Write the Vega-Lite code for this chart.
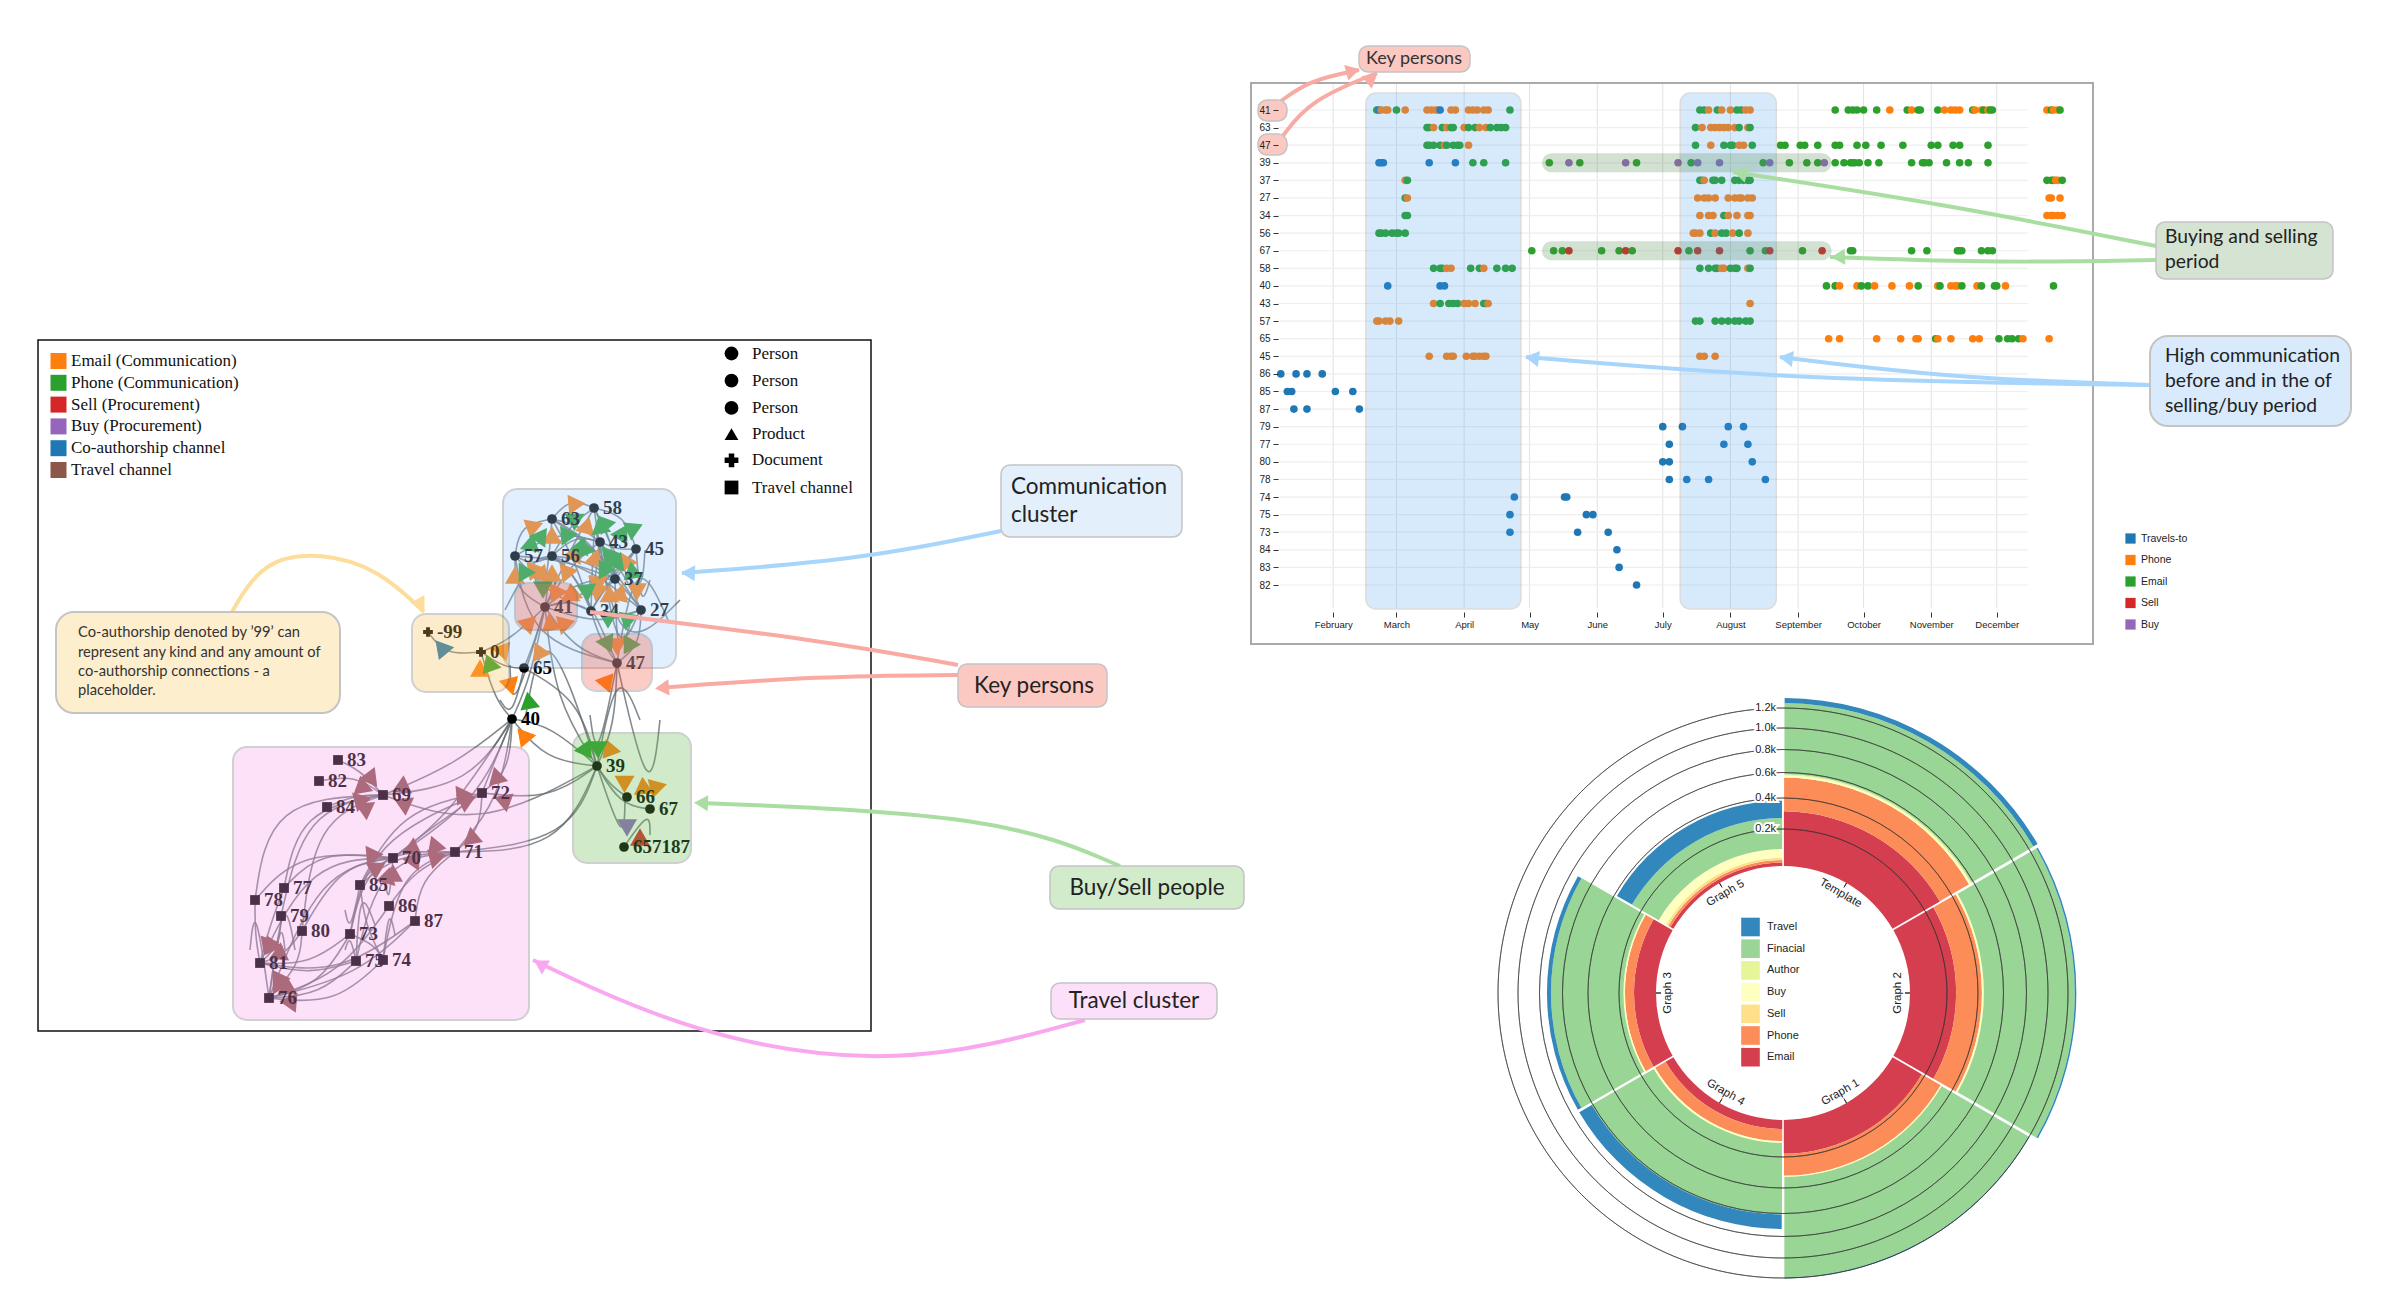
{"$schema":"https://vega.github.io/schema/vega-lite/v6.json","width":2400,"height":1316,"padding":0,"autosize":"none","background":"white","config":{"view":{"stroke":null},"legend":{"orient":"none","title":null,"padding":0,"symbolType":"square","labelLimit":400}},
"resolve":{"scale":{"x":"independent","y":"independent","color":"independent","fill":"independent","shape":"independent","theta":"independent","radius":"independent"},"legend":{"color":"independent","fill":"independent","shape":"independent"}},
"layer":[
{"data":{"values":[{"f":"network","x":38,"x2":871,"y":340,"y2":1031}]},"mark":{"type":"rect","fillOpacity":0,"stroke":"#111","strokeWidth":1.5},"encoding":{"x":{"field":"x","type":"quantitative","scale":{"domain":[0,2400],"range":[0,2400]},"axis":null},"x2":{"field":"x2"},"y":{"field":"y","type":"quantitative","scale":{"domain":[0,1316],"range":[0,1316]},"axis":null},"y2":{"field":"y2"}}},
{"data":{"values":[{"f":"timeline","x":1251,"x2":2093,"y":83,"y2":644}]},"mark":{"type":"rect","fillOpacity":0,"stroke":"#aaaaaa","strokeWidth":2},"encoding":{"x":{"field":"x","type":"quantitative","scale":{"domain":[0,2400],"range":[0,2400]},"axis":null},"x2":{"field":"x2"},"y":{"field":"y","type":"quantitative","scale":{"domain":[0,1316],"range":[0,1316]},"axis":null},"y2":{"field":"y2"}}},
{"encoding":{"x":{"field":"d","type":"temporal","title":null,"scale":{"type":"utc","domain":["2024-01-01","2025-01-01"],"range":[1265.5,2064.4]},"axis":{"orient":"bottom","offset":-704,"values":["2024-02-01","2024-03-01","2024-04-01","2024-05-01","2024-06-01","2024-07-01","2024-08-01","2024-09-01","2024-10-01","2024-11-01","2024-12-01"],"format":"%B","grid":false,"domain":false,"tickSize":5,"tickColor":"#333","labelColor":"#222","labelFont":"Liberation Sans","labelFontSize":9.5,"labelPadding":2,"labelOverlap":false,"zindex":1}}},
"layer":[
{"data":{"values":[{"d":"2024-02-01"},{"d":"2024-03-01"},{"d":"2024-04-01"},{"d":"2024-05-01"},{"d":"2024-06-01"},{"d":"2024-07-01"},{"d":"2024-08-01"},{"d":"2024-09-01"},{"d":"2024-10-01"},{"d":"2024-11-01"},{"d":"2024-12-01"}]},"mark":{"type":"rule","y":84,"y2":608,"stroke":"#e2e2e2","strokeWidth":1}},
{"data":{"values":[{"p":"41"},{"p":"63"},{"p":"47"},{"p":"39"},{"p":"37"},{"p":"27"},{"p":"34"},{"p":"56"},{"p":"67"},{"p":"58"},{"p":"40"},{"p":"43"},{"p":"57"},{"p":"65"},{"p":"45"},{"p":"86"},{"p":"85"},{"p":"87"},{"p":"79"},{"p":"77"},{"p":"80"},{"p":"78"},{"p":"74"},{"p":"75"},{"p":"73"},{"p":"84"},{"p":"83"},{"p":"82"}]},"mark":{"type":"rule","x":1278,"x2":2028,"stroke":"#eeeeee","strokeWidth":1.2},"encoding":{"x":{"value":1278},"x2":{"value":2028},"y":{"field":"p","type":"nominal","title":null,"scale":{"type":"point","domain":["41","63","47","39","37","27","34","56","67","58","40","43","57","65","45","86","85","87","79","77","80","78","74","75","73","84","83","82"],"range":[110,585],"padding":0},"axis":{"orient":"left","offset":-1278,"grid":false,"domain":false,"tickSize":5,"tickColor":"#333","labelColor":"#222","labelFont":"Liberation Sans","labelFontSize":10,"labelPadding":3,"zindex":1}}}},
{"data":{"values":[
{"p":"41","t":"Email","d":"2024-02-21"},{"p":"41","t":"Travels-to","d":"2024-02-22"},{"p":"41","t":"Phone","d":"2024-02-23"},{"p":"41","t":"Phone","d":"2024-02-25"},{"p":"41","t":"Phone","d":"2024-02-26"},{"p":"41","t":"Email","d":"2024-03-01"},{"p":"41","t":"Phone","d":"2024-03-05"},{"p":"41","t":"Phone","d":"2024-03-15"},{"p":"41","t":"Phone","d":"2024-03-17"},{"p":"41","t":"Phone","d":"2024-03-19"},{"p":"41","t":"Phone","d":"2024-03-20"},{"p":"41","t":"Travels-to","d":"2024-03-21"},{"p":"41","t":"Phone","d":"2024-03-26"},{"p":"41","t":"Phone","d":"2024-03-28"},{"p":"41","t":"Phone","d":"2024-04-03"},{"p":"41","t":"Phone","d":"2024-04-05"},{"p":"41","t":"Phone","d":"2024-04-07"},{"p":"41","t":"Phone","d":"2024-04-10"},{"p":"41","t":"Phone","d":"2024-04-12"},{"p":"41","t":"Email","d":"2024-04-22"},{"p":"41","t":"Email","d":"2024-07-18"},{"p":"41","t":"Email","d":"2024-07-20"},{"p":"41","t":"Phone","d":"2024-07-22"},{"p":"41","t":"Email","d":"2024-07-26"},{"p":"41","t":"Phone","d":"2024-07-28"},{"p":"41","t":"Phone","d":"2024-08-01"},{"p":"41","t":"Email","d":"2024-08-04"},{"p":"41","t":"Email","d":"2024-08-06"},{"p":"41","t":"Phone","d":"2024-08-08"},{"p":"41","t":"Phone","d":"2024-08-10"},{"p":"41","t":"Email","d":"2024-09-18"},{"p":"41","t":"Email","d":"2024-09-24"},{"p":"41","t":"Email","d":"2024-09-26"},{"p":"41","t":"Email","d":"2024-09-28"},{"p":"41","t":"Email","d":"2024-10-01"},{"p":"41","t":"Email","d":"2024-10-07"},{"p":"41","t":"Phone","d":"2024-10-13"},{"p":"41","t":"Email","d":"2024-10-21"},{"p":"41","t":"Phone","d":"2024-10-23"},{"p":"41","t":"Email","d":"2024-10-26"},{"p":"41","t":"Email","d":"2024-10-27"},{"p":"41","t":"Email","d":"2024-11-04"},{"p":"41","t":"Phone","d":"2024-11-07"},{"p":"41","t":"Phone","d":"2024-11-10"},{"p":"41","t":"Phone","d":"2024-11-12"},{"p":"41","t":"Phone","d":"2024-11-14"},{"p":"41","t":"Email","d":"2024-11-20"},{"p":"41","t":"Phone","d":"2024-11-21"},{"p":"41","t":"Phone","d":"2024-11-24"},{"p":"41","t":"Email","d":"2024-11-25"},{"p":"41","t":"Phone","d":"2024-11-27"},{"p":"41","t":"Email","d":"2024-11-28"},{"p":"41","t":"Email","d":"2024-11-29"},{"p":"41","t":"Phone","d":"2024-12-24"},{"p":"41","t":"Email","d":"2024-12-26"},{"p":"41","t":"Phone","d":"2024-12-27"},{"p":"41","t":"Phone","d":"2024-12-29"},{"p":"41","t":"Email","d":"2024-12-30"},
{"p":"63","t":"Email","d":"2024-03-15"},{"p":"63","t":"Email","d":"2024-03-16"},{"p":"63","t":"Phone","d":"2024-03-18"},{"p":"63","t":"Email","d":"2024-03-22"},{"p":"63","t":"Phone","d":"2024-03-24"},{"p":"63","t":"Email","d":"2024-03-26"},{"p":"63","t":"Email","d":"2024-03-27"},{"p":"63","t":"Phone","d":"2024-04-01"},{"p":"63","t":"Email","d":"2024-04-03"},{"p":"63","t":"Email","d":"2024-04-06"},{"p":"63","t":"Phone","d":"2024-04-08"},{"p":"63","t":"Phone","d":"2024-04-11"},{"p":"63","t":"Email","d":"2024-04-13"},{"p":"63","t":"Email","d":"2024-04-16"},{"p":"63","t":"Email","d":"2024-04-18"},{"p":"63","t":"Email","d":"2024-04-20"},{"p":"63","t":"Email","d":"2024-07-16"},{"p":"63","t":"Phone","d":"2024-07-19"},{"p":"63","t":"Phone","d":"2024-07-23"},{"p":"63","t":"Phone","d":"2024-07-25"},{"p":"63","t":"Phone","d":"2024-07-27"},{"p":"63","t":"Phone","d":"2024-07-29"},{"p":"63","t":"Phone","d":"2024-07-31"},{"p":"63","t":"Phone","d":"2024-08-03"},{"p":"63","t":"Email","d":"2024-08-05"},{"p":"63","t":"Phone","d":"2024-08-09"},{"p":"63","t":"Email","d":"2024-08-10"},
{"p":"47","t":"Email","d":"2024-03-15"},{"p":"47","t":"Email","d":"2024-03-16"},{"p":"47","t":"Email","d":"2024-03-18"},{"p":"47","t":"Email","d":"2024-03-21"},{"p":"47","t":"Phone","d":"2024-03-23"},{"p":"47","t":"Email","d":"2024-03-24"},{"p":"47","t":"Email","d":"2024-03-27"},{"p":"47","t":"Email","d":"2024-03-29"},{"p":"47","t":"Email","d":"2024-03-30"},{"p":"47","t":"Phone","d":"2024-04-03"},{"p":"47","t":"Email","d":"2024-07-16"},{"p":"47","t":"Phone","d":"2024-07-23"},{"p":"47","t":"Email","d":"2024-07-29"},{"p":"47","t":"Email","d":"2024-08-01"},{"p":"47","t":"Email","d":"2024-08-02"},{"p":"47","t":"Phone","d":"2024-08-05"},{"p":"47","t":"Phone","d":"2024-08-07"},{"p":"47","t":"Email","d":"2024-08-11"},{"p":"47","t":"Email","d":"2024-08-24"},{"p":"47","t":"Email","d":"2024-08-26"},{"p":"47","t":"Email","d":"2024-09-02"},{"p":"47","t":"Email","d":"2024-09-04"},{"p":"47","t":"Email","d":"2024-09-10"},{"p":"47","t":"Email","d":"2024-09-18"},{"p":"47","t":"Email","d":"2024-09-20"},{"p":"47","t":"Email","d":"2024-09-28"},{"p":"47","t":"Email","d":"2024-10-02"},{"p":"47","t":"Email","d":"2024-10-09"},{"p":"47","t":"Email","d":"2024-10-19"},{"p":"47","t":"Email","d":"2024-11-01"},{"p":"47","t":"Email","d":"2024-11-04"},{"p":"47","t":"Email","d":"2024-11-11"},{"p":"47","t":"Email","d":"2024-11-14"},{"p":"47","t":"Email","d":"2024-11-27"},
{"p":"39","t":"Travels-to","d":"2024-02-22"},{"p":"39","t":"Travels-to","d":"2024-02-23"},{"p":"39","t":"Travels-to","d":"2024-02-24"},{"p":"39","t":"Travels-to","d":"2024-03-16"},{"p":"39","t":"Travels-to","d":"2024-03-28"},{"p":"39","t":"Email","d":"2024-04-05"},{"p":"39","t":"Email","d":"2024-04-10"},{"p":"39","t":"Email","d":"2024-04-20"},{"p":"39","t":"Email","d":"2024-05-10"},{"p":"39","t":"Buy","d":"2024-05-19"},{"p":"39","t":"Email","d":"2024-05-24"},{"p":"39","t":"Buy","d":"2024-06-14"},{"p":"39","t":"Email","d":"2024-06-19"},{"p":"39","t":"Buy","d":"2024-07-08"},{"p":"39","t":"Email","d":"2024-07-14"},{"p":"39","t":"Buy","d":"2024-07-17"},{"p":"39","t":"Buy","d":"2024-07-27"},{"p":"39","t":"Email","d":"2024-08-16"},{"p":"39","t":"Buy","d":"2024-08-19"},{"p":"39","t":"Email","d":"2024-08-28"},{"p":"39","t":"Email","d":"2024-09-05"},{"p":"39","t":"Email","d":"2024-09-10"},{"p":"39","t":"Buy","d":"2024-09-13"},{"p":"39","t":"Email","d":"2024-09-18"},{"p":"39","t":"Email","d":"2024-09-22"},{"p":"39","t":"Email","d":"2024-09-25"},{"p":"39","t":"Email","d":"2024-09-26"},{"p":"39","t":"Email","d":"2024-09-27"},{"p":"39","t":"Email","d":"2024-09-29"},{"p":"39","t":"Email","d":"2024-10-03"},{"p":"39","t":"Email","d":"2024-10-08"},{"p":"39","t":"Email","d":"2024-10-23"},{"p":"39","t":"Email","d":"2024-10-28"},{"p":"39","t":"Email","d":"2024-10-29"},{"p":"39","t":"Email","d":"2024-10-31"},{"p":"39","t":"Email","d":"2024-11-08"},{"p":"39","t":"Email","d":"2024-11-14"},{"p":"39","t":"Email","d":"2024-11-18"},{"p":"39","t":"Email","d":"2024-11-27"},
{"p":"37","t":"Phone","d":"2024-03-05"},{"p":"37","t":"Email","d":"2024-03-06"},{"p":"37","t":"Email","d":"2024-07-18"},{"p":"37","t":"Email","d":"2024-07-19"},{"p":"37","t":"Phone","d":"2024-07-20"},{"p":"37","t":"Email","d":"2024-07-24"},{"p":"37","t":"Email","d":"2024-07-25"},{"p":"37","t":"Email","d":"2024-07-28"},{"p":"37","t":"Email","d":"2024-08-03"},{"p":"37","t":"Email","d":"2024-08-05"},{"p":"37","t":"Email","d":"2024-08-07"},{"p":"37","t":"Email","d":"2024-08-09"},{"p":"37","t":"Email","d":"2024-08-10"},{"p":"37","t":"Email","d":"2024-12-24"},{"p":"37","t":"Email","d":"2024-12-26"},{"p":"37","t":"Email","d":"2024-12-27"},{"p":"37","t":"Phone","d":"2024-12-28"},{"p":"37","t":"Phone","d":"2024-12-29"},{"p":"37","t":"Email","d":"2024-12-31"},
{"p":"27","t":"Email","d":"2024-03-05"},{"p":"27","t":"Phone","d":"2024-03-06"},{"p":"27","t":"Phone","d":"2024-07-17"},{"p":"27","t":"Phone","d":"2024-07-20"},{"p":"27","t":"Phone","d":"2024-07-22"},{"p":"27","t":"Phone","d":"2024-07-25"},{"p":"27","t":"Phone","d":"2024-07-31"},{"p":"27","t":"Phone","d":"2024-08-03"},{"p":"27","t":"Phone","d":"2024-08-05"},{"p":"27","t":"Phone","d":"2024-08-06"},{"p":"27","t":"Phone","d":"2024-08-09"},{"p":"27","t":"Phone","d":"2024-08-11"},{"p":"27","t":"Phone","d":"2024-12-25"},{"p":"27","t":"Phone","d":"2024-12-26"},{"p":"27","t":"Phone","d":"2024-12-30"},
{"p":"34","t":"Email","d":"2024-03-05"},{"p":"34","t":"Email","d":"2024-03-06"},{"p":"34","t":"Phone","d":"2024-07-18"},{"p":"34","t":"Phone","d":"2024-07-22"},{"p":"34","t":"Phone","d":"2024-07-24"},{"p":"34","t":"Email","d":"2024-07-29"},{"p":"34","t":"Phone","d":"2024-07-31"},{"p":"34","t":"Phone","d":"2024-08-04"},{"p":"34","t":"Phone","d":"2024-08-09"},{"p":"34","t":"Phone","d":"2024-08-10"},{"p":"34","t":"Phone","d":"2024-12-24"},{"p":"34","t":"Phone","d":"2024-12-26"},{"p":"34","t":"Phone","d":"2024-12-27"},{"p":"34","t":"Phone","d":"2024-12-29"},{"p":"34","t":"Phone","d":"2024-12-31"},
{"p":"56","t":"Email","d":"2024-02-22"},{"p":"56","t":"Email","d":"2024-02-23"},{"p":"56","t":"Email","d":"2024-02-25"},{"p":"56","t":"Email","d":"2024-02-28"},{"p":"56","t":"Email","d":"2024-03-01"},{"p":"56","t":"Email","d":"2024-03-02"},{"p":"56","t":"Email","d":"2024-03-05"},{"p":"56","t":"Phone","d":"2024-07-15"},{"p":"56","t":"Phone","d":"2024-07-16"},{"p":"56","t":"Phone","d":"2024-07-18"},{"p":"56","t":"Email","d":"2024-07-23"},{"p":"56","t":"Phone","d":"2024-07-25"},{"p":"56","t":"Email","d":"2024-07-28"},{"p":"56","t":"Email","d":"2024-07-30"},{"p":"56","t":"Phone","d":"2024-08-02"},{"p":"56","t":"Email","d":"2024-08-05"},{"p":"56","t":"Phone","d":"2024-08-09"},
{"p":"67","t":"Email","d":"2024-05-02"},{"p":"67","t":"Email","d":"2024-05-12"},{"p":"67","t":"Email","d":"2024-05-16"},{"p":"67","t":"Sell","d":"2024-05-19"},{"p":"67","t":"Email","d":"2024-06-03"},{"p":"67","t":"Email","d":"2024-06-11"},{"p":"67","t":"Sell","d":"2024-06-14"},{"p":"67","t":"Email","d":"2024-06-17"},{"p":"67","t":"Sell","d":"2024-07-08"},{"p":"67","t":"Email","d":"2024-07-13"},{"p":"67","t":"Sell","d":"2024-07-17"},{"p":"67","t":"Sell","d":"2024-07-27"},{"p":"67","t":"Email","d":"2024-08-10"},{"p":"67","t":"Email","d":"2024-08-17"},{"p":"67","t":"Sell","d":"2024-08-19"},{"p":"67","t":"Email","d":"2024-09-03"},{"p":"67","t":"Sell","d":"2024-09-12"},{"p":"67","t":"Email","d":"2024-09-25"},{"p":"67","t":"Email","d":"2024-09-26"},{"p":"67","t":"Email","d":"2024-10-23"},{"p":"67","t":"Email","d":"2024-10-30"},{"p":"67","t":"Email","d":"2024-11-13"},{"p":"67","t":"Email","d":"2024-11-14"},{"p":"67","t":"Email","d":"2024-11-15"},{"p":"67","t":"Email","d":"2024-11-24"},{"p":"67","t":"Email","d":"2024-11-27"},{"p":"67","t":"Email","d":"2024-11-29"},
{"p":"58","t":"Email","d":"2024-03-18"},{"p":"58","t":"Email","d":"2024-03-21"},{"p":"58","t":"Email","d":"2024-03-22"},{"p":"58","t":"Phone","d":"2024-03-24"},{"p":"58","t":"Phone","d":"2024-03-26"},{"p":"58","t":"Email","d":"2024-04-04"},{"p":"58","t":"Email","d":"2024-04-08"},{"p":"58","t":"Phone","d":"2024-04-10"},{"p":"58","t":"Email","d":"2024-04-16"},{"p":"58","t":"Email","d":"2024-04-20"},{"p":"58","t":"Email","d":"2024-04-23"},{"p":"58","t":"Email","d":"2024-07-18"},{"p":"58","t":"Email","d":"2024-07-22"},{"p":"58","t":"Email","d":"2024-07-25"},{"p":"58","t":"Email","d":"2024-07-26"},{"p":"58","t":"Phone","d":"2024-07-28"},{"p":"58","t":"Phone","d":"2024-07-29"},{"p":"58","t":"Email","d":"2024-08-01"},{"p":"58","t":"Email","d":"2024-08-03"},{"p":"58","t":"Email","d":"2024-08-04"},{"p":"58","t":"Phone","d":"2024-08-09"},{"p":"58","t":"Email","d":"2024-08-10"},
{"p":"40","t":"Travels-to","d":"2024-02-26"},{"p":"40","t":"Travels-to","d":"2024-03-21"},{"p":"40","t":"Travels-to","d":"2024-03-23"},{"p":"40","t":"Email","d":"2024-09-14"},{"p":"40","t":"Email","d":"2024-09-18"},{"p":"40","t":"Phone","d":"2024-09-20"},{"p":"40","t":"Phone","d":"2024-09-28"},{"p":"40","t":"Email","d":"2024-09-30"},{"p":"40","t":"Email","d":"2024-10-03"},{"p":"40","t":"Phone","d":"2024-10-06"},{"p":"40","t":"Phone","d":"2024-10-14"},{"p":"40","t":"Phone","d":"2024-10-22"},{"p":"40","t":"Email","d":"2024-10-26"},{"p":"40","t":"Phone","d":"2024-11-04"},{"p":"40","t":"Email","d":"2024-11-05"},{"p":"40","t":"Phone","d":"2024-11-10"},{"p":"40","t":"Phone","d":"2024-11-12"},{"p":"40","t":"Phone","d":"2024-11-13"},{"p":"40","t":"Email","d":"2024-11-15"},{"p":"40","t":"Phone","d":"2024-11-22"},{"p":"40","t":"Email","d":"2024-11-24"},{"p":"40","t":"Email","d":"2024-11-30"},{"p":"40","t":"Email","d":"2024-12-01"},{"p":"40","t":"Phone","d":"2024-12-05"},{"p":"40","t":"Email","d":"2024-12-27"},
{"p":"43","t":"Phone","d":"2024-03-18"},{"p":"43","t":"Email","d":"2024-03-21"},{"p":"43","t":"Email","d":"2024-03-25"},{"p":"43","t":"Email","d":"2024-03-27"},{"p":"43","t":"Email","d":"2024-03-29"},{"p":"43","t":"Phone","d":"2024-04-01"},{"p":"43","t":"Phone","d":"2024-04-03"},{"p":"43","t":"Phone","d":"2024-04-06"},{"p":"43","t":"Email","d":"2024-04-10"},{"p":"43","t":"Email","d":"2024-04-11"},{"p":"43","t":"Phone","d":"2024-04-12"},{"p":"43","t":"Phone","d":"2024-08-10"},
{"p":"57","t":"Phone","d":"2024-02-21"},{"p":"57","t":"Phone","d":"2024-02-22"},{"p":"57","t":"Phone","d":"2024-02-25"},{"p":"57","t":"Phone","d":"2024-02-27"},{"p":"57","t":"Phone","d":"2024-03-02"},{"p":"57","t":"Email","d":"2024-07-16"},{"p":"57","t":"Email","d":"2024-07-18"},{"p":"57","t":"Email","d":"2024-07-25"},{"p":"57","t":"Email","d":"2024-07-28"},{"p":"57","t":"Email","d":"2024-07-31"},{"p":"57","t":"Email","d":"2024-08-03"},{"p":"57","t":"Email","d":"2024-08-05"},{"p":"57","t":"Email","d":"2024-08-08"},{"p":"57","t":"Email","d":"2024-08-10"},
{"p":"65","t":"Phone","d":"2024-09-15"},{"p":"65","t":"Phone","d":"2024-09-20"},{"p":"65","t":"Phone","d":"2024-10-07"},{"p":"65","t":"Phone","d":"2024-10-18"},{"p":"65","t":"Phone","d":"2024-10-25"},{"p":"65","t":"Phone","d":"2024-10-26"},{"p":"65","t":"Email","d":"2024-11-03"},{"p":"65","t":"Phone","d":"2024-11-04"},{"p":"65","t":"Phone","d":"2024-11-10"},{"p":"65","t":"Phone","d":"2024-11-20"},{"p":"65","t":"Phone","d":"2024-11-23"},{"p":"65","t":"Email","d":"2024-12-02"},{"p":"65","t":"Email","d":"2024-12-06"},{"p":"65","t":"Email","d":"2024-12-08"},{"p":"65","t":"Email","d":"2024-12-11"},{"p":"65","t":"Phone","d":"2024-12-13"},{"p":"65","t":"Phone","d":"2024-12-25"},
{"p":"45","t":"Phone","d":"2024-03-16"},{"p":"45","t":"Phone","d":"2024-03-24"},{"p":"45","t":"Phone","d":"2024-03-26"},{"p":"45","t":"Phone","d":"2024-03-27"},{"p":"45","t":"Phone","d":"2024-04-02"},{"p":"45","t":"Phone","d":"2024-04-05"},{"p":"45","t":"Phone","d":"2024-04-06"},{"p":"45","t":"Phone","d":"2024-04-08"},{"p":"45","t":"Phone","d":"2024-04-10"},{"p":"45","t":"Phone","d":"2024-04-11"},{"p":"45","t":"Phone","d":"2024-07-18"},{"p":"45","t":"Phone","d":"2024-07-20"},{"p":"45","t":"Phone","d":"2024-07-25"},
{"p":"86","t":"Travels-to","d":"2024-01-08"},{"p":"86","t":"Travels-to","d":"2024-01-15"},{"p":"86","t":"Travels-to","d":"2024-01-20"},{"p":"86","t":"Travels-to","d":"2024-01-27"},
{"p":"85","t":"Travels-to","d":"2024-01-11"},{"p":"85","t":"Travels-to","d":"2024-01-13"},{"p":"85","t":"Travels-to","d":"2024-02-02"},{"p":"85","t":"Travels-to","d":"2024-02-10"},
{"p":"87","t":"Travels-to","d":"2024-01-14"},{"p":"87","t":"Travels-to","d":"2024-01-20"},{"p":"87","t":"Travels-to","d":"2024-02-13"},
{"p":"79","t":"Travels-to","d":"2024-07-01"},{"p":"79","t":"Travels-to","d":"2024-07-10"},{"p":"79","t":"Travels-to","d":"2024-07-31"},{"p":"79","t":"Travels-to","d":"2024-08-07"},
{"p":"77","t":"Travels-to","d":"2024-07-04"},{"p":"77","t":"Travels-to","d":"2024-07-29"},{"p":"77","t":"Travels-to","d":"2024-08-09"},
{"p":"80","t":"Travels-to","d":"2024-07-01"},{"p":"80","t":"Travels-to","d":"2024-07-04"},{"p":"80","t":"Travels-to","d":"2024-08-11"},
{"p":"78","t":"Travels-to","d":"2024-07-04"},{"p":"78","t":"Travels-to","d":"2024-07-12"},{"p":"78","t":"Travels-to","d":"2024-07-22"},{"p":"78","t":"Travels-to","d":"2024-08-17"},
{"p":"74","t":"Travels-to","d":"2024-04-24"},{"p":"74","t":"Travels-to","d":"2024-05-17"},{"p":"74","t":"Travels-to","d":"2024-05-18"},
{"p":"75","t":"Travels-to","d":"2024-04-22"},{"p":"75","t":"Travels-to","d":"2024-05-27"},{"p":"75","t":"Travels-to","d":"2024-05-30"},
{"p":"73","t":"Travels-to","d":"2024-04-22"},{"p":"73","t":"Travels-to","d":"2024-05-23"},{"p":"73","t":"Travels-to","d":"2024-06-06"},
{"p":"84","t":"Travels-to","d":"2024-06-10"},{"p":"83","t":"Travels-to","d":"2024-06-11"},{"p":"82","t":"Travels-to","d":"2024-06-19"}
]},"mark":{"type":"point","filled":true,"size":58,"opacity":1},"encoding":{"y":{"field":"p","type":"nominal"},"color":{"field":"t","type":"nominal","scale":{"domain":["Travels-to","Phone","Email","Sell","Buy"],"range":["#1f77b4","#ff7f0e","#2ca02c","#d62728","#9467bd"]},"legend":{"legendX":2125,"legendY":533,"symbolSize":105,"symbolOpacity":1,"symbolStrokeWidth":0,"rowPadding":10.5,"labelFont":"Liberation Sans","labelFontSize":10.5,"labelOffset":5,"labelColor":"#222"}}}},
{"data":{"values":[{"period":"first","d":"2024-02-16","e":"2024-04-27"},{"period":"second","d":"2024-07-09","e":"2024-08-22"}]},"mark":{"type":"rect","y":93,"y2":609,"cornerRadius":10,"fill":"#3b9cf5","opacity":0.2,"stroke":"#555","strokeWidth":1.5},"encoding":{"x2":{"field":"e"}}},
{"data":{"values":[{"p":"39","d":"2024-05-11","e":"2024-09-12"},{"p":"67","d":"2024-05-11","e":"2024-09-12"}]},"mark":{"type":"rule","strokeWidth":19,"strokeCap":"round","stroke":"#4b874b","opacity":0.25},"encoding":{"x2":{"field":"e"},"y":{"field":"p","type":"nominal"}}}
]},
{"data":{"values":[{"g":"Template","t":"Email","o":1,"v":314},{"g":"Template","t":"Phone","o":2,"v":247},{"g":"Template","t":"Buy","o":4,"v":15},{"g":"Template","t":"Author","o":5,"v":10},{"g":"Template","t":"Finacial","o":6,"v":667},{"g":"Template","t":"Travel","o":7,"v":52},{"g":"Graph 2","t":"Email","o":1,"v":259},{"g":"Graph 2","t":"Phone","o":2,"v":172},{"g":"Graph 2","t":"Buy","o":4,"v":15},{"g":"Graph 2","t":"Finacial","o":6,"v":826},{"g":"Graph 2","t":"Travel","o":7,"v":16},{"g":"Graph 1","t":"Email","o":1,"v":183},{"g":"Graph 1","t":"Phone","o":2,"v":138},{"g":"Graph 1","t":"Buy","o":4,"v":8},{"g":"Graph 1","t":"Finacial","o":6,"v":867},{"g":"Graph 1","t":"Travel","o":7,"v":8},{"g":"Graph 4","t":"Email","o":1,"v":49},{"g":"Graph 4","t":"Phone","o":2,"v":65},{"g":"Graph 4","t":"Buy","o":4,"v":10},{"g":"Graph 4","t":"Finacial","o":6,"v":485},{"g":"Graph 4","t":"Travel","o":7,"v":126},{"g":"Graph 3","t":"Email","o":1,"v":119},{"g":"Graph 3","t":"Phone","o":2,"v":49},{"g":"Graph 3","t":"Buy","o":4,"v":8},{"g":"Graph 3","t":"Finacial","o":6,"v":524},{"g":"Graph 3","t":"Travel","o":7,"v":35},{"g":"Graph 5","t":"Email","o":1,"v":19},{"g":"Graph 5","t":"Phone","o":2,"v":13},{"g":"Graph 5","t":"Sell","o":3,"v":13},{"g":"Graph 5","t":"Buy","o":4,"v":47},{"g":"Graph 5","t":"Finacial","o":6,"v":179},{"g":"Graph 5","t":"Travel","o":7,"v":112}]},
"layer":[
{"transform":[{"stack":"v","groupby":["g"],"sort":[{"field":"o"}],"as":["r0","r1"]}],"mark":{"type":"arc","x":1783,"y":993,"padAngle":0.008},"encoding":{"theta":{"field":"g","type":"nominal","scale":{"type":"band","domain":["Template","Graph 2","Graph 1","Graph 4","Graph 3","Graph 5"],"range":[0,6.28318]}},"radius":{"field":"r1","type":"quantitative","scale":{"type":"linear","domain":[0,200,400,600,800,1000,1200,1400],"range":[127,164,195,220.5,243.5,265,285,304]}},"radius2":{"field":"r0"},"color":{"field":"t","type":"nominal","scale":{"domain":["Travel","Finacial","Author","Buy","Sell","Phone","Email"],"range":["#3288bd","#99d594","#e6f598","#ffffbf","#fee08b","#fc8d59","#d53e4f"]},"legend":{"legendX":1741,"legendY":917.5,"symbolSize":346,"symbolOpacity":1,"symbolStrokeWidth":0,"rowPadding":2.7,"labelFont":"Liberation Sans","labelFontSize":11,"labelOffset":7,"labelColor":"#222"}}}},
{"data":{"values":[{"k":200,"label":"0.2k"},{"k":400,"label":"0.4k"},{"k":600,"label":"0.6k"},{"k":800,"label":"0.8k"},{"k":1000,"label":"1.0k"},{"k":1200,"label":"1.2k"}]},"mark":{"type":"arc","x":1783,"y":993,"theta":0,"theta2":6.28318,"filled":false,"fillOpacity":0,"stroke":"#333","strokeWidth":0.8,"strokeOpacity":0.75},"encoding":{"radius":{"field":"k","type":"quantitative"},"radius2":{"field":"k"}}},
{"data":{"values":[{"k":200,"label":"0.2k"},{"k":400,"label":"0.4k"},{"k":600,"label":"0.6k"},{"k":800,"label":"0.8k"},{"k":1000,"label":"1.0k"},{"k":1200,"label":"1.2k"}]},"mark":{"type":"text","x":1783,"y":993,"theta":0,"dx":-7,"align":"right","baseline":"middle","font":"Liberation Sans","fontSize":11,"stroke":"white","strokeWidth":4},"encoding":{"radius":{"field":"k","type":"quantitative"},"text":{"field":"label"}}},
{"data":{"values":[{"k":200,"label":"0.2k"},{"k":400,"label":"0.4k"},{"k":600,"label":"0.6k"},{"k":800,"label":"0.8k"},{"k":1000,"label":"1.0k"},{"k":1200,"label":"1.2k"}]},"mark":{"type":"text","x":1783,"y":993,"theta":0,"dx":-7,"align":"right","baseline":"middle","font":"Liberation Sans","fontSize":11,"fill":"#222"},"encoding":{"radius":{"field":"k","type":"quantitative"},"text":{"field":"label"}}},
{"data":{"values":[{"g":"Template"},{"g":"Graph 2"},{"g":"Graph 1"},{"g":"Graph 4"},{"g":"Graph 3"},{"g":"Graph 5"}]},"mark":{"type":"text","x":1783,"y":993,"radius":115,"align":"center","baseline":"middle","font":"Liberation Sans","fontSize":11.5,"fill":"#222"},"encoding":{"theta":{"field":"g","type":"nominal"},"text":{"field":"g"},"angle":{"field":"g","type":"nominal","legend":null,"scale":{"type":"ordinal","domain":["Template","Graph 2","Graph 1","Graph 4","Graph 3","Graph 5"],"range":[30,270,330,30,270,330]}}}}
]},
{"data":{"values":[{"deg":30},{"deg":90},{"deg":150},{"deg":210},{"deg":270},{"deg":330}]},"mark":{"type":"arc","x":1783,"y":993,"radius":127,"radius2":122,"filled":false,"fillOpacity":0,"stroke":"#333","strokeWidth":1},"encoding":{"theta":{"field":"deg","type":"quantitative","scale":{"domain":[0,360],"range":[0,6.28318]}},"theta2":{"field":"deg"}}},
{"encoding":{"x":{"field":"x","type":"quantitative","scale":{"domain":[0,2400],"range":[0,2400]},"axis":null},"y":{"field":"y","type":"quantitative","scale":{"domain":[0,1316],"range":[0,1316]},"axis":null}},
"layer":[
{"data":{"values":[
{"e":1,"x":[515,520,552],"y":[556,525,519]},{"e":2,"x":[552,570,594],"y":[519,498,508]},{"e":3,"x":[594,625,636],"y":[508,515,549]},{"e":4,"x":[636,650,641],"y":[549,580,610]},{"e":5,"x":[515,515,545],"y":[556,590,607]},{"e":6,"x":[515,530,617],"y":[556,640,663]},{"e":7,"x":[552,530,545],"y":[519,565,607]},{"e":8,"x":[552,505,617],"y":[519,610,663]},{"e":9,"x":[594,680,617],"y":[508,600,663]},{"e":10,"x":[636,668,617],"y":[549,620,663]},{"e":11,"x":[641,640,617],"y":[610,645,663]},{"e":12,"x":[615,630,617],"y":[579,625,663]},{"e":13,"x":[600,640,617],"y":[542,610,663]},{"e":14,"x":[591,600,617],"y":[611,640,663]},{"e":15,"x":[545,575,617],"y":[607,650,663]},{"e":16,"x":[545,570,591],"y":[607,600,611]},{"e":17,"x":[545,600,641],"y":[607,625,610]},{"e":18,"x":[545,580,615],"y":[607,580,579]},{"e":19,"x":[545,570,600],"y":[607,565,542]},{"e":20,"x":[545,570,594],"y":[607,550,508]},{"e":21,"x":[545,555,552],"y":[607,585,556]},{"e":22,"x":[545,600,636],"y":[607,590,549]},{"e":23,"x":[552,575,591],"y":[556,575,611]},{"e":24,"x":[552,585,615],"y":[556,560,579]},{"e":25,"x":[552,575,600],"y":[556,535,542]},{"e":26,"x":[552,570,594],"y":[556,525,508]},{"e":27,"x":[552,600,641],"y":[556,575,610]},{"e":28,"x":[515,533,552],"y":[556,565,556]},{"e":29,"x":[515,550,591],"y":[556,595,611]},{"e":30,"x":[515,565,615],"y":[556,560,579]},{"e":31,"x":[515,560,600],"y":[556,530,542]},{"e":32,"x":[552,578,600],"y":[519,525,542]},{"e":33,"x":[552,590,615],"y":[519,540,579]},{"e":34,"x":[552,575,591],"y":[519,560,611]},{"e":35,"x":[552,605,641],"y":[519,555,610]},{"e":36,"x":[594,612,615],"y":[508,540,579]},{"e":37,"x":[594,600,591],"y":[508,560,611]},{"e":38,"x":[594,645,641],"y":[508,550,610]},{"e":39,"x":[600,618,636],"y":[542,550,549]},{"e":40,"x":[600,610,615],"y":[542,560,579]},{"e":41,"x":[600,590,591],"y":[542,575,611]},{"e":42,"x":[600,625,641],"y":[542,575,610]},{"e":43,"x":[615,630,641],"y":[579,595,610]},{"e":44,"x":[615,600,591],"y":[579,595,611]},{"e":45,"x":[591,615,641],"y":[611,618,610]},{"e":46,"x":[636,628,615],"y":[549,562,579]},{"e":47,"x":[636,610,591],"y":[549,580,611]},
{"e":48,"x":[545,535,524],"y":[607,640,668]},{"e":49,"x":[545,510,512],"y":[607,665,719]},{"e":50,"x":[545,530,512],"y":[607,680,719]},{"e":51,"x":[545,555,597],"y":[607,700,766]},{"e":52,"x":[545,510,481],"y":[607,640,652]},{"e":53,"x":[545,525,597],"y":[607,720,766]},{"e":54,"x":[617,590,597],"y":[663,715,766]},{"e":55,"x":[617,615,597],"y":[663,725,766]},{"e":56,"x":[617,660,650],"y":[663,720,809]},{"e":57,"x":[617,640,597],"y":[663,720,766]},{"e":58,"x":[481,445,428],"y":[652,655,632]},{"e":59,"x":[481,505,524],"y":[652,668,668]},{"e":60,"x":[524,500,512],"y":[668,700,719]},{"e":61,"x":[524,580,597],"y":[668,700,766]},{"e":63,"x":[512,495,481],"y":[719,700,652]},{"e":64,"x":[512,550,597],"y":[719,725,766]},{"e":65,"x":[597,545,512],"y":[766,760,719]},{"e":66,"x":[597,610,627],"y":[766,785,797]},{"e":67,"x":[597,620,650],"y":[766,805,809]},{"e":68,"x":[597,625,624],"y":[766,800,847]},{"e":69,"x":[650,650,624],"y":[809,835,847]},
{"e":71,"x":[512,455,383],"y":[719,765,795]},{"e":72,"x":[512,470,383],"y":[719,785,795]},{"e":73,"x":[597,480,383],"y":[766,830,795]},{"e":74,"x":[597,550,482],"y":[766,800,793]},{"e":75,"x":[597,560,455],"y":[766,850,852]},{"e":76,"x":[597,570,455],"y":[766,840,852]},{"e":77,"x":[512,510,482],"y":[719,770,793]},{"e":78,"x":[512,495,482],"y":[719,760,793]},{"e":79,"x":[512,500,455],"y":[719,800,852]},{"e":80,"x":[512,480,393],"y":[719,800,858]},{"e":81,"x":[512,450,393],"y":[719,815,858]},
{"e":83,"x":[338,360,383],"y":[760,770,795]},{"e":84,"x":[319,355,383],"y":[781,775,795]},{"e":85,"x":[327,355,383],"y":[807,795,795]},{"e":86,"x":[255,270,383],"y":[900,800,795]},{"e":87,"x":[284,300,383],"y":[888,810,795]},{"e":88,"x":[281,305,383],"y":[916,810,795]},{"e":89,"x":[302,315,383],"y":[931,820,795]},{"e":90,"x":[255,300,393],"y":[900,850,858]},{"e":91,"x":[284,320,393],"y":[888,850,858]},{"e":92,"x":[260,310,393],"y":[963,860,858]},{"e":93,"x":[302,340,393],"y":[931,865,858]},{"e":94,"x":[269,320,393],"y":[998,870,858]},{"e":95,"x":[360,370,393],"y":[885,870,858]},{"e":96,"x":[389,385,393],"y":[906,880,858]},{"e":97,"x":[350,370,455],"y":[934,850,852]},{"e":98,"x":[356,380,455],"y":[961,860,852]},{"e":99,"x":[383,400,455],"y":[960,870,852]},{"e":100,"x":[415,420,455],"y":[921,880,852]},{"e":101,"x":[389,415,455],"y":[906,870,852]},{"e":102,"x":[360,395,455],"y":[885,855,852]},{"e":103,"x":[350,370,482],"y":[934,840,793]},{"e":104,"x":[360,400,482],"y":[885,810,793]},{"e":105,"x":[393,435,482],"y":[858,825,793]},{"e":106,"x":[455,480,482],"y":[852,830,793]},{"e":107,"x":[255,255,260],"y":[900,935,963]},{"e":108,"x":[284,270,260],"y":[888,925,963]},{"e":109,"x":[281,280,260],"y":[916,945,963]},{"e":110,"x":[281,285,269],"y":[916,950,998]},{"e":111,"x":[302,300,269],"y":[931,965,998]},{"e":112,"x":[284,295,269],"y":[888,950,998]},{"e":113,"x":[255,250,269],"y":[900,950,998]},{"e":114,"x":[260,310,350],"y":[963,965,934]},{"e":115,"x":[260,310,356],"y":[963,975,961]},{"e":116,"x":[260,340,415],"y":[963,975,921]},{"e":117,"x":[260,285,302],"y":[963,955,931]},{"e":118,"x":[269,320,350],"y":[998,985,934]},{"e":119,"x":[269,320,356],"y":[998,995,961]},{"e":120,"x":[269,335,383],"y":[998,1005,960]},{"e":121,"x":[269,340,389],"y":[998,975,906]},{"e":122,"x":[269,360,415],"y":[998,975,921]},{"e":123,"x":[350,345,360],"y":[934,910,885]},{"e":124,"x":[356,345,350],"y":[961,950,934]},{"e":125,"x":[356,375,360],"y":[961,925,885]},{"e":126,"x":[383,395,389],"y":[960,935,906]},{"e":127,"x":[383,365,360],"y":[960,925,885]},{"e":128,"x":[350,375,383],"y":[934,945,960]}
]},"transform":[{"flatten":["x","y"]}],"mark":{"type":"line","interpolate":"basis","stroke":"#666d73","strokeWidth":1.6,"opacity":0.8},"encoding":{"detail":{"field":"e"},"order":null}},
{"data":{"values":[
{"k":"Email (Communication)","x":[577,587,535,552,515,532,542,552,565,572,597,598,597,575,625,622,637,612,555,568,530,550,562,617,608,538,512,500,480,608,622,641,655,523],"y":[504,525,526,535,575,568,572,573,570,555,562,585,593,595,565,597,592,598,595,597,622,622,622,647,680,655,682,650,668,752,780,790,790,735],"a":[85,15,70,0,0,320,20,0,320,270,135,180,190,110,210,135,180,120,205,240,45,350,315,180,40,215,45,280,0,220,300,235,195,320]},
{"k":"Phone (Communication)","x":[577,603,600,542,565,533,523,578,587,632,623,618,632,587,543,608,627,608,628,493,607,603,587,598,527],"y":[518,522,525,535,533,547,570,548,550,532,537,560,570,593,590,620,622,645,647,666,553,567,752,750,705],"a":[60,320,350,35,325,130,330,260,100,185,150,20,350,175,180,180,190,155,210,100,320,330,145,180,230]},
{"k":"Sell (Procurement)","x":[640],"y":[837],"a":[0]},
{"k":"Buy (Procurement)","x":[627],"y":[828],"a":[180]},
{"k":"Co-authorship channel","x":[441],"y":[647],"a":[320]},
{"k":"Travel channel","x":[372,365,363,368,400,402,495,468,465,502,470,438,438,375,378,388,393,410,411,270,277,267,278,285,288,277],"y":[780,788,800,807,788,803,780,800,795,800,840,857,847,855,867,875,873,850,860,948,955,947,982,990,1002,987],"a":[143,110,75,55,245,295,225,65,85,290,230,75,100,85,60,15,0,245,275,215,245,200,205,240,275,210]}
]},"transform":[{"flatten":["x","y","a"]}],"mark":{"type":"point","shape":"triangle-up","filled":true,"size":400,"opacity":1},"encoding":{"angle":{"field":"a","type":"quantitative","scale":null},"fill":{"field":"k","type":"nominal","scale":{"domain":["Email (Communication)","Phone (Communication)","Sell (Procurement)","Buy (Procurement)","Co-authorship channel","Travel channel"],"range":["#ff7f0e","#2ca02c","#d62728","#9467bd","#1f77b4","#8c564b"]},"legend":{"legendX":50,"legendY":352.5,"symbolSize":256,"symbolOpacity":1,"symbolStrokeWidth":0,"rowPadding":3.8,"labelFont":"Liberation Serif","labelFontSize":17,"labelOffset":4,"labelColor":"#111"}}}},
{"data":{"values":[
{"k":"Person1","id":"58","x":594,"y":508},{"k":"Person1","id":"63","x":552,"y":519},{"k":"Person1","id":"43","x":600,"y":542},{"k":"Person1","id":"45","x":636,"y":549},{"k":"Person1","id":"57","x":515,"y":556},{"k":"Person1","id":"56","x":552,"y":556},{"k":"Person1","id":"37","x":615,"y":579},{"k":"Person1","id":"41","x":545,"y":607},{"k":"Person1","id":"34","x":591,"y":611},{"k":"Person1","id":"27","x":641,"y":610},{"k":"Person1","id":"47","x":617,"y":663},{"k":"Person1","id":"65","x":524,"y":668},{"k":"Person1","id":"40","x":512,"y":719},{"k":"Person1","id":"39","x":597,"y":766},{"k":"Person1","id":"66","x":627,"y":797},{"k":"Person1","id":"67","x":650,"y":809},{"k":"Person1","id":"657187","x":624,"y":847},
{"k":"Document","id":"-99","x":428,"y":632},{"k":"Document","id":"0","x":481,"y":652},
{"k":"Travel channel","id":"83","x":338,"y":760},{"k":"Travel channel","id":"82","x":319,"y":781},{"k":"Travel channel","id":"69","x":383,"y":795},{"k":"Travel channel","id":"84","x":327,"y":807},{"k":"Travel channel","id":"72","x":482,"y":793},{"k":"Travel channel","id":"71","x":455,"y":852},{"k":"Travel channel","id":"70","x":393,"y":858},{"k":"Travel channel","id":"85","x":360,"y":885},{"k":"Travel channel","id":"77","x":284,"y":888},{"k":"Travel channel","id":"78","x":255,"y":900},{"k":"Travel channel","id":"86","x":389,"y":906},{"k":"Travel channel","id":"79","x":281,"y":916},{"k":"Travel channel","id":"87","x":415,"y":921},{"k":"Travel channel","id":"80","x":302,"y":931},{"k":"Travel channel","id":"73","x":350,"y":934},{"k":"Travel channel","id":"81","x":260,"y":963},{"k":"Travel channel","id":"75","x":356,"y":961},{"k":"Travel channel","id":"74","x":383,"y":960},{"k":"Travel channel","id":"76","x":269,"y":998}
]},"layer":[
{"mark":{"type":"point","filled":true,"size":95,"opacity":1,"color":"#000"},"encoding":{"shape":{"field":"k","type":"nominal","scale":{"domain":["Person1","Person2","Person3","Product","Document","Travel channel"],"range":["circle","circle","circle","triangle-up","cross","square"]},"legend":{"legendX":723,"legendY":345,"symbolSize":190,"symbolFillColor":"#000","symbolStrokeColor":"#000","symbolOpacity":1,"rowPadding":6.2,"labelFont":"Liberation Serif","labelFontSize":17,"labelOffset":12,"labelColor":"#111","labelExpr":"replace(datum.label,/[0-9]/,'')"}}}},
{"mark":{"type":"text","align":"left","baseline":"middle","dx":9,"font":"Liberation Serif","fontWeight":"bold","fontSize":19,"fill":"#000"},"encoding":{"text":{"field":"id"}}}
]},
{"data":{"values":[{"c":"Communication","x":503,"x2":676,"y":489,"y2":668},{"c":"Key","x":515,"x2":577,"y":583,"y2":630},{"c":"Key","x":582,"x2":652,"y":634,"y2":691},{"c":"Authors","x":412,"x2":509,"y":614,"y2":692},{"c":"Buy/Sell","x":573,"x2":691,"y":733,"y2":863},{"c":"Travel","x":233,"x2":529,"y":747,"y2":1020}]},"mark":{"type":"rect","cornerRadius":14,"opacity":0.3,"stroke":"#666","strokeWidth":2},"encoding":{"x2":{"field":"x2"},"y2":{"field":"y2"},"color":{"field":"c","type":"nominal","legend":null,"scale":{"domain":["Communication","Key","Authors","Buy/Sell","Travel"],"range":["#9ecdfc","#f55841","#f8c358","#66bc52","#f89eee"]}}}}
]},
{"encoding":{"x":{"field":"x","type":"quantitative","scale":{"domain":[0,2400],"range":[0,2400]},"axis":null},"y":{"field":"y","type":"quantitative","scale":{"domain":[0,1316],"range":[0,1316]},"axis":null}},
"layer":[
{"data":{"values":[
{"id":"a1","c":"Blue","x":[1001,860,682],"y":[531,560,573]},
{"id":"a2","c":"Red","x":[958,820,590],"y":[665,640,612]},
{"id":"a3","c":"Red","x":[958,820,658],"y":[675,676,688]},
{"id":"a4","c":"Green","x":[1120,1000,700],"y":[866,815,803]},
{"id":"a5","c":"Magenta","x":[1085,900,690,533],"y":[1020,1070,1035,960]},
{"id":"a6","c":"Yellow","x":[232,262,322,380,424],"y":[612,560,552,570,612]},
{"id":"a7","c":"Red","x":[1281,1310,1359],"y":[101,80,70]},
{"id":"a8","c":"Red","x":[1282,1310,1377],"y":[137,100,73]},
{"id":"a9","c":"Green","x":[2156,1950,1733],"y":[246,205,172]},
{"id":"a10","c":"Green","x":[2156,2000,1830],"y":[260,263,257]},
{"id":"a11","c":"Blue","x":[2150,1950,1780],"y":[385,378,357]},
{"id":"a12","c":"Blue","x":[2150,1800,1526],"y":[385,380,357]}
]},"transform":[{"flatten":["x","y"]}],"mark":{"type":"line","interpolate":"basis","strokeWidth":4},"encoding":{"detail":{"field":"id"},"order":null,"color":{"field":"c","type":"nominal","legend":null,"scale":{"domain":["Blue","Red","Green","Magenta","Yellow"],"range":["#a8d5fb","#f9aba3","#aadda1","#f9a8f0","#fddd9b"]}}}},
{"data":{"values":[
{"c":"Blue","x":688,"y":573,"a":272},{"c":"Blue","x":1786,"y":358,"a":278},{"c":"Blue","x":1532,"y":358,"a":278},
{"c":"Red","x":662,"y":688,"a":265},{"c":"Red","x":1353,"y":71,"a":75},{"c":"Red","x":1372,"y":78,"a":50},
{"c":"Green","x":701,"y":803,"a":272},{"c":"Green","x":1740,"y":173,"a":285},{"c":"Green","x":1838,"y":257,"a":268},
{"c":"Magenta","x":540,"y":964,"a":300},{"c":"Yellow","x":421,"y":605,"a":150}
]},"mark":{"type":"point","shape":"triangle-up","filled":true,"size":260,"opacity":1},"encoding":{"angle":{"field":"a","type":"quantitative","scale":null},"color":{"field":"c","type":"nominal"}}},
{"data":{"values":[
{"c":"Communication","x":1001,"x2":1182,"y":465,"y2":537},
{"c":"Key","x":958,"x2":1107,"y":664,"y2":707},
{"c":"Buy/Sell","x":1050,"x2":1244,"y":866,"y2":909},
{"c":"Travel","x":1051,"x2":1217,"y":983,"y2":1019},
{"c":"Key","x":1359,"x2":1470,"y":46,"y2":72},
{"c":"Key","x":1258,"x2":1287,"y":100,"y2":121},
{"c":"Key","x":1258,"x2":1287,"y":134,"y2":155},
{"c":"Period","x":2156,"x2":2333,"y":222,"y2":279}
]},"mark":{"type":"rect","cornerRadius":9,"stroke":"#c4c4c4","strokeWidth":1.5},"encoding":{"x2":{"field":"x2"},"y2":{"field":"y2"},"fill":{"field":"c","type":"nominal","legend":null,"scale":{"domain":["Communication","Key","Buy/Sell","Travel","Note","Period","High"],"range":["#e3f0fb","#fcc8c2","#d1ebcb","#fce0f9","#fdeece","#d5e3d3","#d8eafc"]}}}},
{"data":{"values":[
{"c":"Note","x":56,"x2":340,"y":612,"y2":713},
{"c":"High","x":2150,"x2":2351,"y":336,"y2":426}
]},"mark":{"type":"rect","cornerRadius":18,"stroke":"#c4c4c4","strokeWidth":2},"encoding":{"x2":{"field":"x2"},"y2":{"field":"y2"},"fill":{"field":"c","type":"nominal","legend":null}}},
{"data":{"values":[
{"t":"Communication","x":1011,"y":487},{"t":"cluster","x":1011,"y":515}]},"mark":{"type":"text","font":"Lato","fontSize":22.5,"baseline":"middle","align":"left","fill":"#222"},"encoding":{"text":{"field":"t"}}},
{"data":{"values":[
{"t":"Key persons","x":1034,"y":686},{"t":"Buy/Sell people","x":1147,"y":888},{"t":"Travel cluster","x":1134,"y":1001}]},"mark":{"type":"text","font":"Lato","fontSize":22.5,"baseline":"middle","align":"center","fill":"#222"},"encoding":{"text":{"field":"t"}}},
{"data":{"values":[{"t":"Buying and selling","x":2165,"y":237},{"t":"period","x":2165,"y":262},{"t":"High communication","x":2165,"y":356},{"t":"before and in the of","x":2165,"y":381},{"t":"selling/buy period","x":2165,"y":406}]},"mark":{"type":"text","font":"Lato","fontSize":19.3,"baseline":"middle","align":"left","fill":"#222"},"encoding":{"text":{"field":"t"}}},
{"data":{"values":[{"t":"Key persons","x":1414,"y":59}]},"mark":{"type":"text","font":"Lato","fontSize":18,"baseline":"middle","align":"center","fill":"#333"},"encoding":{"text":{"field":"t"}}},
{"data":{"values":[{"t":"Co-authorship denoted by ’99’ can","x":78,"y":633},{"t":"represent any kind and any amount of","x":78,"y":653},{"t":"co-authorship connections - a","x":78,"y":672},{"t":"placeholder.","x":78,"y":691}]},"mark":{"type":"text","font":"Lato","fontSize":14.7,"baseline":"middle","align":"left","fill":"#333"},"encoding":{"text":{"field":"t"}}}
]}
]}
